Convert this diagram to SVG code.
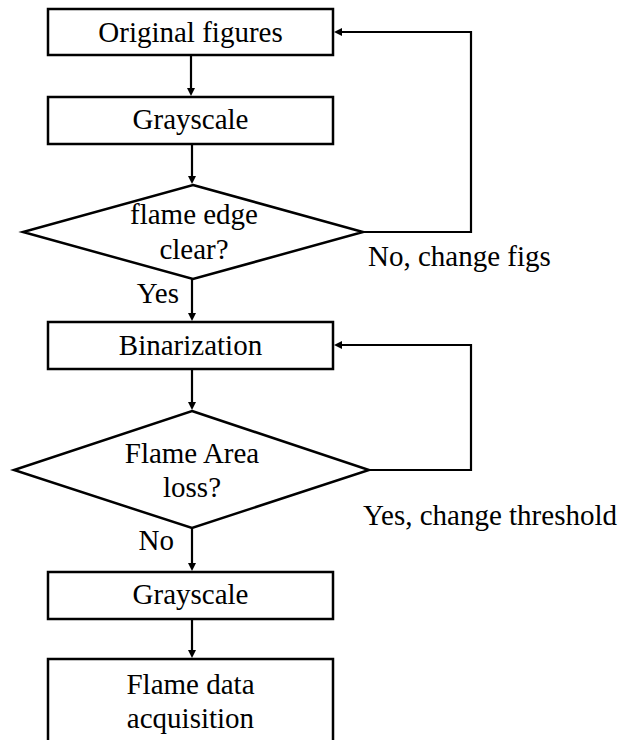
<svg xmlns="http://www.w3.org/2000/svg" width="627" height="740" viewBox="0 0 627 740">
<rect width="627" height="740" fill="#fff"/>
<g id="connectors" fill="none" stroke="#000" stroke-width="2.2">
<line x1="191" y1="55" x2="191" y2="88"/>
<line x1="192" y1="144" x2="192" y2="176"/>
<polyline points="363,232 471,232 471,32 342,32"/>
<line x1="192" y1="279" x2="192" y2="313"/>
<polyline points="369,470 471,470 471,345 342,345"/>
<line x1="192" y1="369" x2="192" y2="402"/>
<line x1="192" y1="528" x2="192" y2="563"/>
<line x1="192" y1="619" x2="192" y2="650"/>
<g fill="#000" stroke="none">
<polygon points="187,88 195,88 191,96"/>
<polygon points="188,176 196,176 192,184"/>
<polygon points="342,28 342,36 334,32"/>
<polygon points="188,313 196,313 192,321"/>
<polygon points="342,341 342,349 334,345"/>
<polygon points="188,402 196,402 192,410"/>
<polygon points="188,563 196,563 192,571"/>
<polygon points="188,650 196,650 192,658"/>
</g>
</g>
<text x="179" y="303" text-anchor="end" font-family="Liberation Serif" font-size="29">Yes</text>
<text x="368" y="266" font-family="Liberation Serif" font-size="29">No, change figs</text>
<text x="363" y="525" font-family="Liberation Serif" font-size="29">Yes, change threshold</text>
<text x="174" y="550" text-anchor="end" font-family="Liberation Serif" font-size="29">No</text>
<g id="n1"><rect x="48" y="9" width="285" height="46" fill="#fff" stroke="#000" stroke-width="2.5"/><text x="190.5" y="42" text-anchor="middle" font-family="Liberation Serif" font-size="29">Original figures</text></g>
<g id="n2"><rect x="48" y="97" width="285" height="47" fill="#fff" stroke="#000" stroke-width="2.5"/><text x="190.5" y="129" text-anchor="middle" font-family="Liberation Serif" font-size="29">Grayscale</text></g>
<g id="n3"><polygon points="193,185 363,232 193,279 23,232" fill="#fff" stroke="#000" stroke-width="2.5"/><text x="194" y="224" text-anchor="middle" font-family="Liberation Serif" font-size="29">flame edge</text><text x="194" y="259" text-anchor="middle" font-family="Liberation Serif" font-size="29">clear?</text></g>
<g id="n4"><rect x="48" y="322" width="285" height="47" fill="#fff" stroke="#000" stroke-width="2.5"/><text x="190.5" y="355" text-anchor="middle" font-family="Liberation Serif" font-size="29">Binarization</text></g>
<g id="n5"><polygon points="192,411 369,470 192,528 14,470" fill="#fff" stroke="#000" stroke-width="2.5"/><text x="192" y="463" text-anchor="middle" font-family="Liberation Serif" font-size="29">Flame Area</text><text x="192" y="497" text-anchor="middle" font-family="Liberation Serif" font-size="29">loss?</text></g>
<g id="n6"><rect x="48" y="572" width="285" height="47" fill="#fff" stroke="#000" stroke-width="2.5"/><text x="190.5" y="604" text-anchor="middle" font-family="Liberation Serif" font-size="29">Grayscale</text></g>
<g id="n7"><rect x="48" y="659" width="285" height="90" fill="#fff" stroke="#000" stroke-width="2.5"/><text x="190.5" y="694" text-anchor="middle" font-family="Liberation Serif" font-size="29">Flame data</text><text x="190.5" y="728" text-anchor="middle" font-family="Liberation Serif" font-size="29">acquisition</text></g>
</svg>
